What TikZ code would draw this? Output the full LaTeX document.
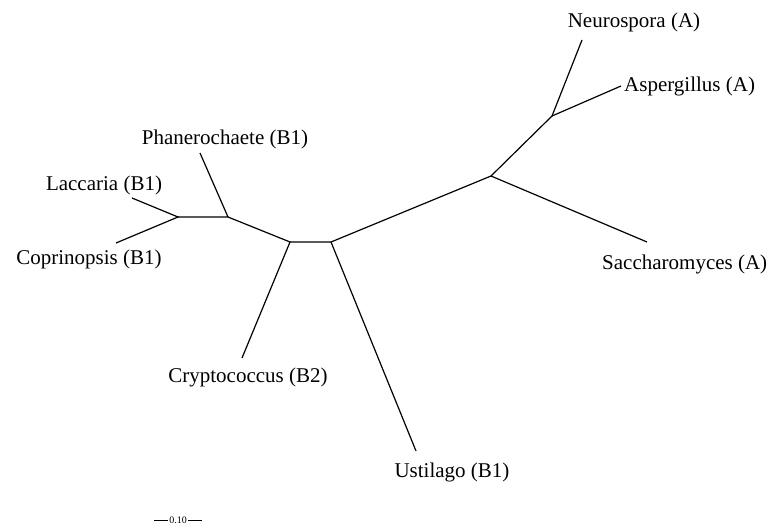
\documentclass[tikz,border=0pt]{standalone}
\usepackage{fontspec}
\setmainfont{Liberation Serif}
\usetikzlibrary{calc}
\begin{document}
\begin{tikzpicture}[x=1pt,y=-1pt,
  branch/.style={line width=1.2pt,black},
  taxon/.style={font=\fontsize{21}{24}\selectfont,inner sep=0pt},
  scalelabel/.style={font=\fontsize{10}{12}\selectfont,inner sep=1pt,fill=white}]
\useasboundingbox (0,0) rectangle (767,527);
% internal nodes
\coordinate (j1) at (178,217);
\coordinate (j2) at (228,217);
\coordinate (j3) at (290,242);
\coordinate (j4) at (331,242);
\coordinate (j5) at (491,176);
\coordinate (j6) at (552,116);
% leaf ends
\coordinate (lac) at (132,198);
\coordinate (cop) at (116,243);
\coordinate (pha) at (200,153);
\coordinate (cry) at (242,358);
\coordinate (ust) at (416,451);
\coordinate (sac) at (647,242);
\coordinate (neu) at (582,40);
\coordinate (asp) at (621,86);
% branches
\draw[branch] (lac) -- (j1) -- (cop);
\draw[branch] (j1) -- (j2) -- (pha);
\draw[branch] (j2) -- (j3) -- (cry);
\draw[branch] (j3) -- (j4) -- (ust);
\draw[branch] (j4) -- (j5) -- (sac);
\draw[branch] (j5) -- (j6) -- (neu);
\draw[branch] (j6) -- (asp);
% labels
\node[taxon] (tneu) at (634,22) {Neurospora (A)};
\node[taxon,anchor=west] (tasp) at (624,86) {Aspergillus (A)};
\node[taxon,anchor=west] (tsac) at (602,264) {Saccharomyces (A)};
\node[taxon] (tpha) at (225,139) {Phanerochaete (B1)};
\node[taxon] (tlac) at (104,185) {Laccaria (B1)};
\node[taxon] (tcop) at (89,259) {Coprinopsis (B1)};
\node[taxon] (tcry) at (248,377) {Cryptococcus (B2)};
\node[taxon] (tust) at (452,472) {Ustilago (B1)};
% scale bar
\coordinate (sb1) at (154,520);
\coordinate (sb2) at (202,520);
\draw[line width=1pt] (sb1) -- (sb2);
\node[scalelabel] (sbl) at ($(sb1)!0.5!(sb2)$) {0.10};
\end{tikzpicture}
\end{document}
